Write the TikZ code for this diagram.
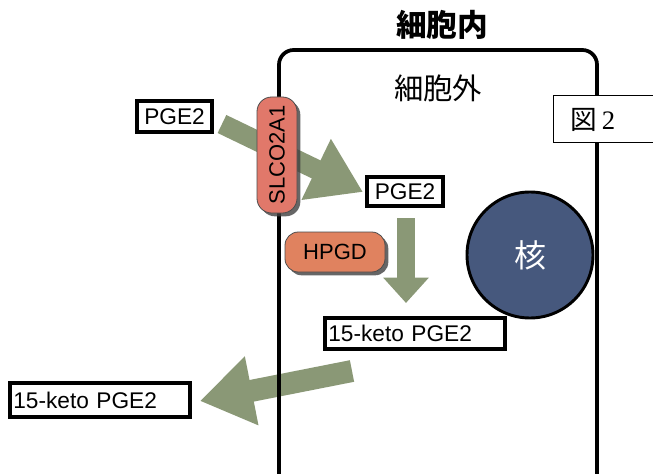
\documentclass[tikz,border=0pt]{standalone}
\usepackage{fontspec}
\setmainfont{Liberation Sans}
\newfontfamily\jpfont{Noto Sans CJK JP}
\newfontfamily\serifnum{Liberation Serif}
\usetikzlibrary{arrows.meta,shadows}
\definecolor{arrowgreen}{HTML}{8A9876}
\definecolor{slcocol}{HTML}{E1786A}
\definecolor{hpgdcol}{HTML}{E0825F}
\definecolor{nuccol}{HTML}{46587D}
\tikzset{
  txtbox/.style={draw=black, line width=2.8pt, fill=white, font=\fontsize{17}{19}\selectfont, inner sep=0pt},
  capsule/.style={draw=black!70, line width=0.6pt, rounded corners=11pt, font=\fontsize{16.5}{18}\selectfont,
     drop shadow={shadow xshift=2.5pt, shadow yshift=-2.5pt, fill=black!75, opacity=0.8}, inner sep=0pt},
  bigarrow/.style={draw=arrowgreen, line cap=butt},
}
\begin{document}
\begin{tikzpicture}[x=0.75pt,y=-0.75pt]
\useasboundingbox (0,0) rectangle (653,474);
\clip (0,0) rectangle (653,474);
\fill[white] (0,0) rectangle (653,474);

% arrow leaving the cell (below the cell outline)
\coordinate (a3s) at (352,371);
\coordinate (a3e) at (200,401);
\draw[bigarrow, line width=16.5pt, -{Triangle[width=50pt,length=39.5pt]}] (a3s) -- (a3e);

% cell outline
\draw[line width=2.8pt, rounded corners=11pt] (279,490) -- (279,50) -- (597,50) -- (597,490);

% labels
\node (inside) at (442,25) {\jpfont\bfseries\fontsize{23}{25}\selectfont 細胞内};
\node (outside) at (438,88) {\jpfont\fontsize{22}{24}\selectfont 細胞外};
\node[draw=black, line width=1.1pt, fill=white, minimum width=80pt, minimum height=35.25pt, anchor=north west, inner sep=0pt] (fig) at (553,95) {};
\node[anchor=west] (figlbl) at (566,120) {\jpfont\fontsize{20}{22}\selectfont 図\,\serifnum 2};

% arrow into the cell
\coordinate (a1s) at (222,124);
\coordinate (a1e) at (363,192);
\draw[bigarrow, line width=15pt, -{Triangle[width=48pt,length=39pt]}] (a1s) -- (a1e);

% transporter
\node[capsule, fill=slcocol, rotate=90, minimum width=87pt, minimum height=30pt] (slco) at (277,155) {SLCO2A1};

% boxes
\node[txtbox, minimum width=56.25pt, minimum height=23.25pt] (pgeout) at (174.5,116.5) {PGE2};
\node[txtbox, minimum width=57pt, minimum height=21.75pt] (pgein) at (405,191.5) {PGE2};
\node[txtbox, minimum height=23.25pt, text width=130pt, inner xsep=2.5pt, align=left] (ketoin) at (415,333.5) {15-keto PGE2};
\node[txtbox, minimum height=25.5pt, text width=130pt, inner xsep=2.5pt, align=left] (ketoout) at (100,400) {15-keto PGE2};

% enzyme
\node[capsule, fill=hpgdcol, minimum width=75pt, minimum height=30pt, rounded corners=10pt] (hpgd) at (335,252) {HPGD};

% conversion arrow
\coordinate (a2s) at (406,218);
\coordinate (a2e) at (406,303);
\draw[bigarrow, line width=14pt, -{Triangle[width=33pt,length=19pt]}] (a2s) -- (a2e);

% nucleus
\node[circle, draw=black, line width=2.2pt, fill=nuccol, minimum size=94.5pt, text=white] (nuc) at (530,255) {\jpfont\fontsize{24}{26}\selectfont 核};
\end{tikzpicture}
\end{document}
